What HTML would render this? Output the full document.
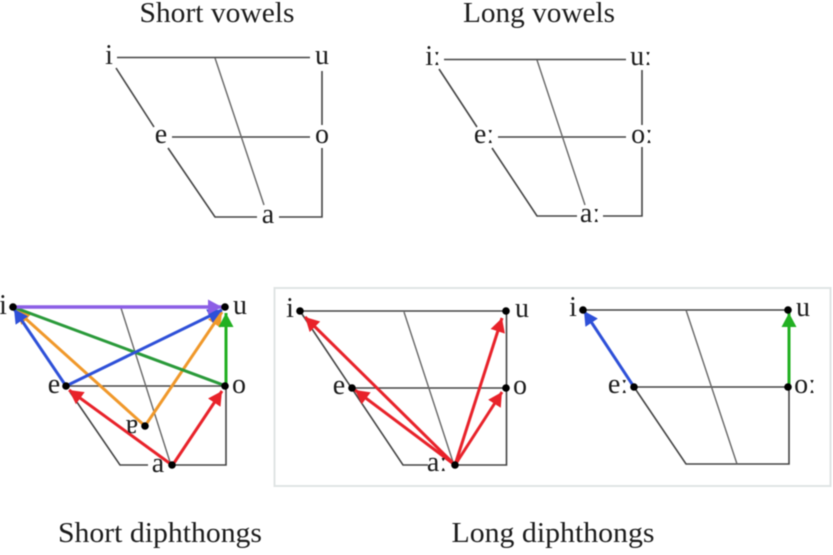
<!DOCTYPE html>
<html><head><meta charset="utf-8"><style>
html,body{margin:0;padding:0;background:#fff;width:833px;height:555px;overflow:hidden}
svg{display:block;filter:blur(.4px)}
text{font-family:"Liberation Serif",serif;fill:#1c1c1c}
.t{font-size:28px;text-anchor:middle}
.l{font-size:28px;text-anchor:middle}
.l tspan{font-weight:bold}
.g line,.g polyline{stroke:#444;stroke-width:1.6;fill:none}
.g line.m{stroke:#666;stroke-width:1.4}
.d{fill:#000}
</style></head><body>
<svg width="833" height="555" viewBox="0 0 833 555" xmlns="http://www.w3.org/2000/svg">
<defs>
<marker id="r" markerUnits="userSpaceOnUse" markerWidth="16" markerHeight="16" refX="14" refY="8" orient="auto"><path d="M0 0.5L14 8L0 15.5z" fill="#e8222a"/></marker>
<marker id="b" markerUnits="userSpaceOnUse" markerWidth="16" markerHeight="16" refX="14" refY="8" orient="auto"><path d="M0 0.5L14 8L0 15.5z" fill="#2e50d8"/></marker>
<marker id="gr" markerUnits="userSpaceOnUse" markerWidth="16" markerHeight="16" refX="14" refY="8" orient="auto"><path d="M0 0.5L14 8L0 15.5z" fill="#22b022"/></marker>
<marker id="o" markerUnits="userSpaceOnUse" markerWidth="16" markerHeight="16" refX="14" refY="8" orient="auto"><path d="M0 0.5L14 8L0 15.5z" fill="#f0982a"/></marker>
<marker id="p" markerUnits="userSpaceOnUse" markerWidth="16" markerHeight="16" refX="14" refY="8" orient="auto"><path d="M0 0.5L14 8L0 15.5z" fill="#8c5ee6"/></marker>
</defs>

<text class="t" x="217" y="22" textLength="155" lengthAdjust="spacingAndGlyphs">Short vowels</text>
<text class="t" x="539" y="22" textLength="152" lengthAdjust="spacingAndGlyphs">Long vowels</text>
<text class="t" x="160" y="542" textLength="204" lengthAdjust="spacingAndGlyphs">Short diphthongs</text>
<text class="t" x="553" y="542" textLength="203" lengthAdjust="spacingAndGlyphs">Long diphthongs</text>

<!-- Short vowels -->
<g class="g">
<line x1="117" y1="57.5" x2="310" y2="57.5"/>
<line x1="172" y1="137" x2="310" y2="137"/>
<line x1="322" y1="71" x2="322" y2="125"/>
<polyline points="322,148 322,217 279,217"/>
<polyline points="257,217 215,217 168,148"/>
<line x1="116" y1="68" x2="154" y2="127"/>
<line class="m" x1="215" y1="58" x2="264" y2="205"/>
</g>
<text class="l" x="109" y="64">i</text><text class="l" x="322" y="64">u</text>
<text class="l" x="161" y="143">e</text><text class="l" x="322" y="143">o</text>
<text class="l" x="268" y="223">a</text>

<!-- Long vowels -->
<g class="g">
<line x1="444" y1="59.5" x2="626" y2="59.5"/>
<line x1="498" y1="137" x2="626" y2="137"/>
<line x1="642" y1="70" x2="642" y2="125"/>
<polyline points="642,147 642,216 603,216"/>
<polyline points="577,216 537,216 492,148"/>
<line x1="439" y1="69" x2="477" y2="127"/>
<line class="m" x1="537" y1="60" x2="585" y2="205"/>
</g>
<text class="l" x="433" y="65">i<tspan>ː</tspan></text><text class="l" x="641" y="65">u<tspan>ː</tspan></text>
<text class="l" x="484" y="143">e<tspan>ː</tspan></text><text class="l" x="642" y="143">o<tspan>ː</tspan></text>
<text class="l" x="590" y="222">a<tspan>ː</tspan></text>

<!-- Short diphthongs -->
<g class="g">
<line x1="66" y1="386" x2="226" y2="386"/>
<polyline points="226,386 226,465 172,465"/>
<polyline points="148,465 120,465 70,392"/>
<line class="m" x1="121" y1="308" x2="170" y2="462"/>
</g>
<g fill="none" stroke-width="3">
<line x1="145" y1="426" x2="16" y2="310" stroke="#f0982a" marker-end="url(#o)"/>
<line x1="147" y1="423" x2="222" y2="312" stroke="#f0982a" marker-end="url(#o)"/>
<line x1="226" y1="386" x2="13" y2="307" stroke="#2a9a3a"/>
<line x1="226" y1="386" x2="226" y2="313" stroke="#22b022" marker-end="url(#gr)"/>
<line x1="66" y1="386" x2="14" y2="309" stroke="#2e50d8" marker-end="url(#b)"/>
<line x1="66" y1="386" x2="222" y2="310" stroke="#2e50d8" marker-end="url(#b)"/>
<line x1="13" y1="307" x2="222" y2="307" stroke="#8c5ee6" stroke-width="3.4" marker-end="url(#p)"/>
<line x1="172" y1="465" x2="69" y2="390" stroke="#e8222a" marker-end="url(#r)"/>
<line x1="174" y1="463" x2="222" y2="391" stroke="#e8222a" marker-end="url(#r)"/>
</g>
<g class="d"><circle cx="13" cy="307" r="3.8"/><circle cx="225" cy="307" r="3.8"/><circle cx="66" cy="386" r="3.8"/><circle cx="225" cy="386" r="3.8"/><circle cx="145" cy="426" r="3.8"/><circle cx="172" cy="465" r="3.8"/></g>
<text class="l" x="3" y="314">i</text><text class="l" x="240" y="314">u</text>
<text class="l" x="54" y="393">e</text><text class="l" x="239" y="393">o</text>
<text class="l" x="132" y="433">ɐ</text><text class="l" x="158" y="472">a</text>

<!-- Box -->
<rect x="274.5" y="288" width="556" height="198" fill="none" stroke="#e0e4e4" stroke-width="2"/>

<!-- Long diphthongs A -->
<g class="g">
<line x1="300" y1="311" x2="506" y2="311"/>
<line x1="352" y1="388" x2="506" y2="388"/>
<polyline points="506.5,311 506.5,465 455,465"/>
<polyline points="428,465 403,465 300,311"/>
<line class="m" x1="404" y1="312" x2="453" y2="462"/>
</g>
<g fill="none" stroke="#e8222a" stroke-width="3">
<line x1="455" y1="465" x2="305" y2="317" marker-end="url(#r)"/>
<line x1="455" y1="465" x2="355" y2="390" marker-end="url(#r)"/>
<line x1="455" y1="465" x2="502" y2="318" marker-end="url(#r)"/>
<line x1="455" y1="465" x2="502" y2="392" marker-end="url(#r)"/>
</g>
<g class="d"><circle cx="300" cy="311" r="3.8"/><circle cx="506" cy="311" r="3.8"/><circle cx="352" cy="388" r="3.8"/><circle cx="506" cy="388" r="3.8"/><circle cx="455" cy="465" r="3.8"/></g>
<text class="l" x="290" y="317">i</text><text class="l" x="522" y="317">u</text>
<text class="l" x="339" y="394">e</text><text class="l" x="520" y="394">o</text>
<text class="l" x="437" y="471">a<tspan>ː</tspan></text>

<!-- Long diphthongs B -->
<g class="g">
<line x1="583" y1="310" x2="788" y2="310"/>
<line x1="634" y1="387" x2="788" y2="387"/>
<polyline points="789,387 789,464 686,464 634,387"/>
<line class="m" x1="686" y1="310" x2="737" y2="464"/>
</g>
<g fill="none" stroke-width="3">
<line x1="634" y1="387" x2="584" y2="311" stroke="#2e50d8" marker-end="url(#b)"/>
<line x1="789" y1="386" x2="789" y2="313" stroke="#22b022" marker-end="url(#gr)"/>
</g>
<g class="d"><circle cx="583" cy="310" r="3.8"/><circle cx="788" cy="310" r="3.8"/><circle cx="634" cy="387" r="3.8"/><circle cx="788" cy="387" r="3.8"/></g>
<text class="l" x="573" y="316">i</text><text class="l" x="803" y="316">u</text>
<text class="l" x="618" y="393">e<tspan>ː</tspan></text><text class="l" x="805" y="393">o<tspan>ː</tspan></text>
</svg>
</body></html>
